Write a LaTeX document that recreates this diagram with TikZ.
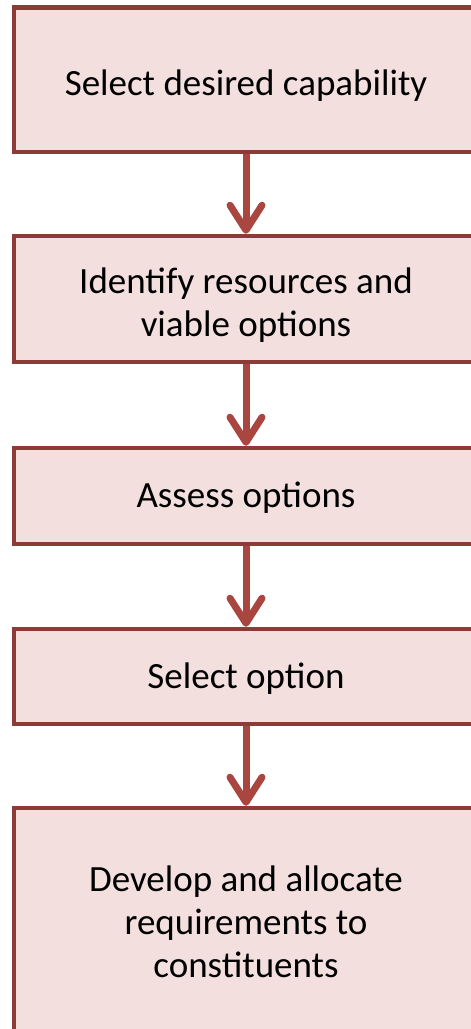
\documentclass[tikz,border=0pt]{standalone}
\usepackage{fontspec}
\setmainfont{Carlito}
\usetikzlibrary{arrows.meta}
\definecolor{boxborder}{HTML}{8C3B37}
\definecolor{boxfill}{HTML}{F2DFDE}
\definecolor{arrowred}{HTML}{A8463F}
\tikzset{
  stepbox/.style={draw=boxborder, line width=4.5pt, fill=boxfill, minimum width=464pt,
    inner sep=0pt},
  steptext/.style={anchor=base, align=center, inner sep=0pt,
    font=\fontsize{37}{43}\selectfont, text=black},
  flowarrow/.style={draw=arrowred, line width=7pt,
    -{Straight Barb[length=25pt, width=32pt, line cap=round, line join=round]}}
}
\begin{document}
\begin{tikzpicture}[x=1pt,y=-1pt]
\useasboundingbox (0,0) rectangle (471,1029);
\clip (0,0) rectangle (471,1029);
\fill[white] (0,0) rectangle (471,1029);
\node[stepbox, minimum height=144.5pt] (b1) at (246,79.75) {};
\node[stepbox, minimum height=126pt] (b2) at (246,299) {};
\node[stepbox, minimum height=96pt] (b3) at (246,496) {};
\node[stepbox, minimum height=95pt] (b4) at (246,676.5) {};
\node[stepbox, minimum height=232pt] (b5) at (246,924) {};
\node[steptext] (t1) at (246,95) {Select desired capability};
\node[steptext] (t2) at (246,336) {Identify resources and\\viable options};
\node[steptext] (t3) at (246,507.3) {Assess options};
\node[steptext] (t4) at (246,688) {Select option};
\node[steptext] (t5) at (246,977) {Develop and allocate\\requirements to\\constituents};
\draw[flowarrow] (b1.south) -- (b2.north);
\draw[flowarrow] (b2.south) -- (b3.north);
\draw[flowarrow] (b3.south) -- (b4.north);
\draw[flowarrow] (b4.south) -- (b5.north);
\end{tikzpicture}
\end{document}
